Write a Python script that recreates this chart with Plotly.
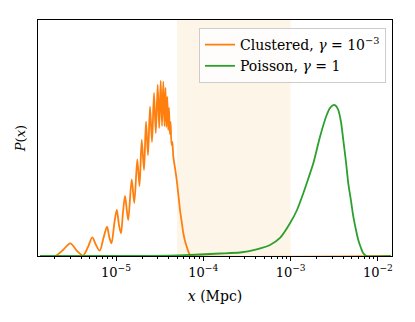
import plotly.graph_objects as go

# clustered curve
clu_x = [1.347e-6, 1.754e-6, 2.055e-6, 2.47e-6, 2.996e-6, 3.576e-6, 4.19e-6, 4.78e-6, 5.35e-6,
         5.90e-6, 6.51e-6, 7.19e-6, 7.89e-6, 8.42e-6, 8.88e-6, 9.61e-6, 1.021e-5, 1.082e-5,
         1.141e-5, 1.203e-5, 1.268e-5, 1.337e-5, 1.383e-5, 1.513e-5, 1.620e-5, 1.754e-5,
         1.859e-5, 1.970e-5, 2.093e-5, 2.206e-5, 2.326e-5, 2.452e-5, 2.585e-5, 2.725e-5,
         2.857e-5, 3.004e-5, 3.125e-5, 3.251e-5, 3.365e-5, 3.482e-5, 3.594e-5, 3.690e-5,
         3.779e-5, 3.870e-5, 3.963e-5, 4.048e-5, 4.134e-5, 4.222e-5, 4.323e-5, 4.415e-5,
         4.533e-5, 4.741e-5, 4.958e-5, 5.199e-5, 5.409e-5, 5.657e-5, 5.901e-5, 6.171e-5,
         6.455e-5, 6.768e-5, 7.041e-5, 7.684e-5, 1.4e-2]
clu_y = [0, 0, 0.002, 0.0254, 0.0538, 0.0212, 0.002, 0.0381, 0.0792,
         0.0466, 0.0225, 0.0763, 0.1242, 0.0763, 0.0538, 0.1441, 0.1949, 0.1314,
         0.0962, 0.1864, 0.2542, 0.1864, 0.1525, 0.325, 0.2246, 0.4097,
         0.2966, 0.4915, 0.3644, 0.5691, 0.428, 0.6326, 0.4831, 0.6907,
         0.5212, 0.7246, 0.5424, 0.7428, 0.5508, 0.7386, 0.5508, 0.7119,
         0.5466, 0.6737, 0.5339, 0.6271, 0.5169, 0.5678, 0.4703, 0.4831,
         0.4208, 0.3729, 0.322, 0.2542, 0.1949, 0.1441, 0.0975, 0.0636,
         0.0394, 0.0169, 0.0042, 0, 0]

# poisson curve
poi_x = [1.347e-6, 1.447e-5, 4.156e-5, 9.17e-5, 1.553e-4, 2.633e-4, 4.09e-4, 5.81e-4, 7.56e-4,
         9.84e-4, 1.184e-3, 1.398e-3, 1.603e-3, 1.820e-3, 2.172e-3, 2.592e-3, 2.827e-3,
         3.084e-3, 3.311e-3, 3.518e-3, 3.778e-3, 4.014e-3, 4.31e-3, 4.58e-3, 4.92e-3,
         5.23e-3, 5.61e-3, 5.96e-3, 6.40e-3, 6.80e-3, 7.44e-3, 1.4e-2]
poi_y = [0, 0, 0.002, 0.0064, 0.0106, 0.0148, 0.0284, 0.0466, 0.0763,
         0.1386, 0.1949, 0.2657, 0.3305, 0.3928, 0.5055, 0.5975, 0.6271,
         0.6398, 0.6356, 0.6186, 0.5678, 0.4915, 0.3983, 0.3081, 0.2331,
         0.1667, 0.1102, 0.0678, 0.0339, 0.0114, 0, 0]

band = [5e-5, 1e-3]
tick_vals = [1e-5, 1e-4, 1e-3, 1e-2]
tick_text = ["10<sup>−5</sup>", "10<sup>−4</sup>", "10<sup>−3</sup>", "10<sup>−2</sup>"]

serif = "DejaVu Serif"

fig = go.Figure()
fig.add_vrect(x0=band[0], x1=band[1], fillcolor="#f5a947", opacity=0.12,
              line_width=0, layer="below")

fig.add_trace(go.Scatter(x=clu_x, y=clu_y, mode="lines",
                         line=dict(color="#ff7f0e", width=1.8, shape="spline", smoothing=0.8),
                         name="Clustered, <i>γ</i> = 10<sup>−3</sup>"))
fig.add_trace(go.Scatter(x=poi_x, y=poi_y, mode="lines",
                         line=dict(color="#2ca02c", width=1.8, shape="spline", smoothing=0.6),
                         name="Poisson, <i>γ</i> = 1"))

fig.update_layout(
    width=415, height=322,
    margin=dict(l=38, r=23, t=20, b=66),
    paper_bgcolor="white", plot_bgcolor="white",
    font=dict(family=serif, size=13, color="black"),
    legend=dict(x=0.983, y=0.966, xanchor="right", yanchor="top",
                bgcolor="rgba(255,255,255,0.8)", bordercolor="#cccccc", borderwidth=1,
                font=dict(family=serif, size=14), tracegroupgap=0),
    xaxis=dict(type="log", range=[-5.8935, -1.8385], showgrid=False, zeroline=False,
               automargin=False,
               showline=True, linecolor="black", linewidth=1.2, mirror=True,
               ticks="outside", ticklen=4, tickwidth=1, tickcolor="black",
               tickvals=tick_vals, ticktext=tick_text, tickfont=dict(family=serif, size=13),
               minor=dict(ticks="outside", ticklen=2, tickcolor="black", dtick="D1", showgrid=False),
               title=dict(text="<i>x</i> (Mpc)", font=dict(family=serif, size=14), standoff=12)),
    yaxis=dict(range=[0, 1], showgrid=False, zeroline=False, showticklabels=False,
               automargin=False,
               showline=True, linecolor="black", linewidth=1.2, mirror=True, ticks="",
               title=dict(text="<i>P</i>(<i>x</i>)", font=dict(family=serif, size=13), standoff=8)),
)

# drop the browser's default 8px body margin so the figure sits at the page corner
fig.write_html("out.html", config={"displayModeBar": False},
               post_script="document.body.style.margin='0';")
